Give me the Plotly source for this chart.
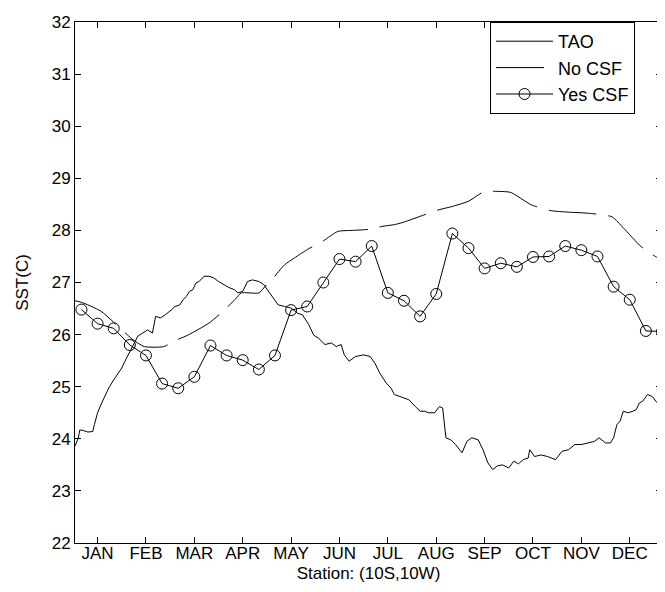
import plotly.graph_objects as go

# Month tick labels (mid-month day of year)
month_labels = ["JAN", "FEB", "MAR", "APR", "MAY", "JUN", "JUL", "AUG", "SEP", "OCT", "NOV", "DEC"]
month_ticks = [15, 45, 75, 105, 135, 165, 195, 225, 255, 285, 315, 345]

# TAO observations (day of year, SST)
tao_day = [1, 3, 4, 6, 9, 12, 13, 15, 17, 19, 22, 25, 28, 30, 32, 34, 37, 40, 43, 46, 49, 51, 54, 57,
           61, 63, 66, 68, 70, 72, 74, 76, 78, 81, 84, 87, 90, 93, 96, 100, 102, 105, 108, 111, 115,
           118, 121, 124, 127, 131, 135, 139, 142, 146, 149, 152, 156, 160, 163, 166, 168, 171, 175,
           180, 184, 187, 190, 194, 197, 199, 203, 208, 212, 215, 218, 220, 224, 227, 229, 231, 234,
           237, 241, 244, 247, 251, 254, 257, 260, 263, 266, 270, 273, 276, 279, 282, 283, 286, 290,
           294, 299, 303, 307, 311, 315, 319, 323, 326, 330, 333, 335, 337, 339, 341, 344, 347, 349,
           351, 353, 356, 359, 362, 364, 365]
tao_sst = [23.86, 24.01, 24.17, 24.16, 24.13, 24.14, 24.27, 24.50, 24.65, 24.78, 24.98, 25.13, 25.26,
           25.36, 25.49, 25.61, 25.81, 25.97, 26.03, 26.09, 26.03, 26.35, 26.32, 26.38, 26.48, 26.54,
           26.57, 26.67, 26.73, 26.83, 26.86, 26.99, 27.02, 27.12, 27.12, 27.09, 27.02, 26.96, 26.91,
           26.86, 26.80, 26.83, 27.02, 27.05, 27.02, 26.96, 26.83, 26.70, 26.57, 26.54, 26.51, 26.41,
           26.38, 26.19, 25.99, 25.93, 25.81, 25.84, 25.77, 25.81, 25.61, 25.49, 25.58, 25.61, 25.58,
           25.45, 25.26, 25.07, 24.97, 24.85, 24.81, 24.75, 24.62, 24.53, 24.53, 24.50, 24.50, 24.62,
           24.59, 24.02, 23.98, 23.89, 23.73, 23.95, 24.02, 23.98, 23.79, 23.54, 23.41, 23.48, 23.50,
           23.44, 23.57, 23.52, 23.60, 23.63, 23.79, 23.66, 23.69, 23.66, 23.60, 23.76, 23.79, 23.89,
           23.89, 23.92, 23.95, 24.02, 23.92, 23.92, 24.02, 24.27, 24.34, 24.53, 24.50, 24.53, 24.56,
           24.69, 24.72, 24.85, 24.81, 24.69, 24.75, 24.75]

# Model without CSF
nocsf_day = [1, 5, 17, 37, 44, 56, 62, 71, 84, 94, 101, 104, 115, 119, 124, 131, 137, 146, 155, 164,
             173, 183, 192, 199, 205, 226, 235, 245, 255, 261, 271, 284, 296, 307, 319, 334, 341, 352,
             362, 365]
nocsf_sst = [26.65, 26.62, 26.45, 25.90, 25.77, 25.77, 25.87, 25.99, 26.22, 26.48, 26.70, 26.80, 26.80,
             26.93, 27.09, 27.34, 27.47, 27.65, 27.80, 27.98, 28.00, 28.02, 28.08, 28.11, 28.16, 28.39,
             28.46, 28.56, 28.75, 28.75, 28.73, 28.49, 28.38, 28.35, 28.33, 28.26, 28.05, 27.69, 27.48,
             27.45]

# Model with CSF (10-day samples)
yescsf_day = [5, 15, 25, 35, 45, 55, 65, 75, 85, 95, 105, 115, 125, 135, 145, 155, 165, 175, 185,
              195, 205, 215, 225, 235, 245, 255, 265, 275, 285, 295, 305, 315, 325, 335, 345, 355, 365]
yescsf_sst = [26.48, 26.21, 26.12, 25.80, 25.60, 25.06, 24.97, 25.19, 25.79, 25.60, 25.51, 25.33, 25.60,
              26.47, 26.54, 27.00, 27.45, 27.40, 27.70, 26.80, 26.65, 26.35, 26.78, 27.94, 27.66, 27.27,
              27.37, 27.30, 27.49, 27.50, 27.70, 27.62, 27.50, 26.92, 26.67, 26.07, 26.06]

FONT = "Liberation Sans, Arial, Helvetica, sans-serif"

fig = go.Figure()
fig.add_trace(go.Scatter(x=tao_day, y=tao_sst, mode="lines", name="TAO",
                         line=dict(color="black", width=1)))
fig.add_trace(go.Scatter(x=nocsf_day, y=nocsf_sst, mode="lines", name="No CSF",
                         line=dict(color="black", width=1, dash="48px,12px", shape="spline", smoothing=0.6)))
fig.add_trace(go.Scatter(x=yescsf_day, y=yescsf_sst, mode="lines+markers", name="Yes CSF",
                         line=dict(color="black", width=1),
                         marker=dict(symbol="circle-open", size=11, color="black", line=dict(width=1))))

axis_common = dict(showline=True, linecolor="black", linewidth=1, mirror="allticks",
                   ticks="inside", ticklen=6, tickcolor="black", showgrid=False, zeroline=False,
                   tickfont=dict(family=FONT, size=17, color="black"))

fig.update_layout(
    width=665, height=592,
    margin=dict(l=67, r=11, t=14, b=57),
    paper_bgcolor="white", plot_bgcolor="white",
    font=dict(family=FONT, size=17, color="black"),
    xaxis=dict(range=[1, 365], tickmode="array", tickvals=month_ticks, ticktext=month_labels,
               ticklabelstandoff=-5,
               title=dict(text="Station: (10S,10W)", font=dict(family=FONT, size=17), standoff=4),
               automargin=False, **axis_common),
    yaxis=dict(range=[22, 32], tickmode="linear", tick0=22, dtick=1,
               title=dict(text="SST(C)", font=dict(family=FONT, size=17), standoff=18),
               automargin=False, **axis_common),
    legend=dict(x=0.707, y=1.0, xanchor="left", yanchor="top", bgcolor="white",
                bordercolor="black", borderwidth=1, itemwidth=57,
                font=dict(family=FONT, size=18)),
    showlegend=True,
)

fig.write_html("out.html")
